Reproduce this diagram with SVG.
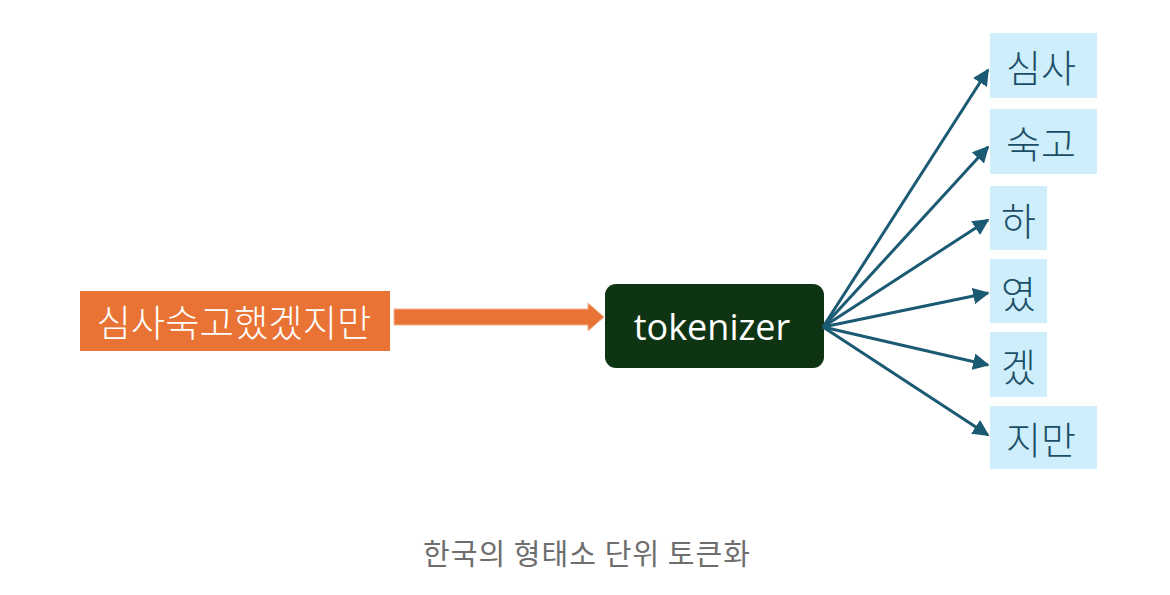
<svg xmlns="http://www.w3.org/2000/svg" width="1170" height="595" viewBox="0 0 1170 595">
<style>
.kr{font-family:"Noto Sans CJK KR","Noto Sans",sans-serif;font-weight:300;}
.tok{fill:#CDEEFA;}
.toktxt{fill:#1B4E66;font-size:38px;}
.conn{stroke:#1B5A73;stroke-width:3;fill:none;marker-end:url(#ah);}
</style>
<defs>
<marker id="ah" viewBox="0 0 10 10" refX="9" refY="5" markerWidth="5.5" markerHeight="5.5" markerUnits="strokeWidth" orient="auto">
<path d="M0,0 L10,5 L0,10 z" fill="#1B5A73"/>
</marker>
</defs>
<rect width="1170" height="595" fill="#ffffff"/>
<g id="input">
<rect x="80" y="291" width="310" height="60" fill="#E97334"/>
<text x="234" y="321" class="kr" font-size="37" fill="#ffffff" text-anchor="middle" dominant-baseline="central" textLength="275" lengthAdjust="spacingAndGlyphs">심사숙고했겠지만</text>
</g>
<g id="tokenizer">
<rect x="605" y="284" width="219" height="84" rx="11" fill="#0F3413"/>
<text x="712" y="340" font-family="Open Sans, sans-serif" font-size="36" fill="#ffffff" text-anchor="middle">tokenizer</text>
</g>
<g id="t1"><rect class="tok" x="990" y="33" width="107" height="65"/><text class="kr toktxt" x="1041" y="65.5" text-anchor="middle" dominant-baseline="central">심사</text></g>
<g id="t2"><rect class="tok" x="990" y="109" width="107" height="65"/><text class="kr toktxt" x="1041" y="141.5" text-anchor="middle" dominant-baseline="central">숙고</text></g>
<g id="t3"><rect class="tok" x="990" y="186" width="57" height="64"/><text class="kr toktxt" x="1018.5" y="218" text-anchor="middle" dominant-baseline="central">하</text></g>
<g id="t4"><rect class="tok" x="990" y="259" width="57" height="64"/><text class="kr toktxt" x="1018.5" y="291" text-anchor="middle" dominant-baseline="central">였</text></g>
<g id="t5"><rect class="tok" x="990" y="332" width="57" height="65"/><text class="kr toktxt" x="1018.5" y="364.5" text-anchor="middle" dominant-baseline="central">겠</text></g>
<g id="t6"><rect class="tok" x="990" y="406" width="107" height="63"/><text class="kr toktxt" x="1041" y="437.5" text-anchor="middle" dominant-baseline="central">지만</text></g>
<g id="connectors">
<path d="M394,309 H588 V303 L604,317 L588,331 V325 H394 Z" fill="#E97334" stroke="#F4B38E" stroke-width="1"/>
<line class="conn" x1="823" y1="327" x2="988" y2="70"/>
<line class="conn" x1="823" y1="327" x2="988" y2="147"/>
<line class="conn" x1="823" y1="327" x2="988" y2="220"/>
<line class="conn" x1="823" y1="327" x2="988" y2="293"/>
<line class="conn" x1="823" y1="327" x2="988" y2="365"/>
<line class="conn" x1="823" y1="327" x2="988" y2="435"/>
</g>
<text x="586.5" y="552" font-family="Noto Sans CJK KR, sans-serif" font-size="29" fill="#6E6E6E" text-anchor="middle" dominant-baseline="central" textLength="327" lengthAdjust="spacing">한국의 형태소 단위 토큰화</text>
</svg>
